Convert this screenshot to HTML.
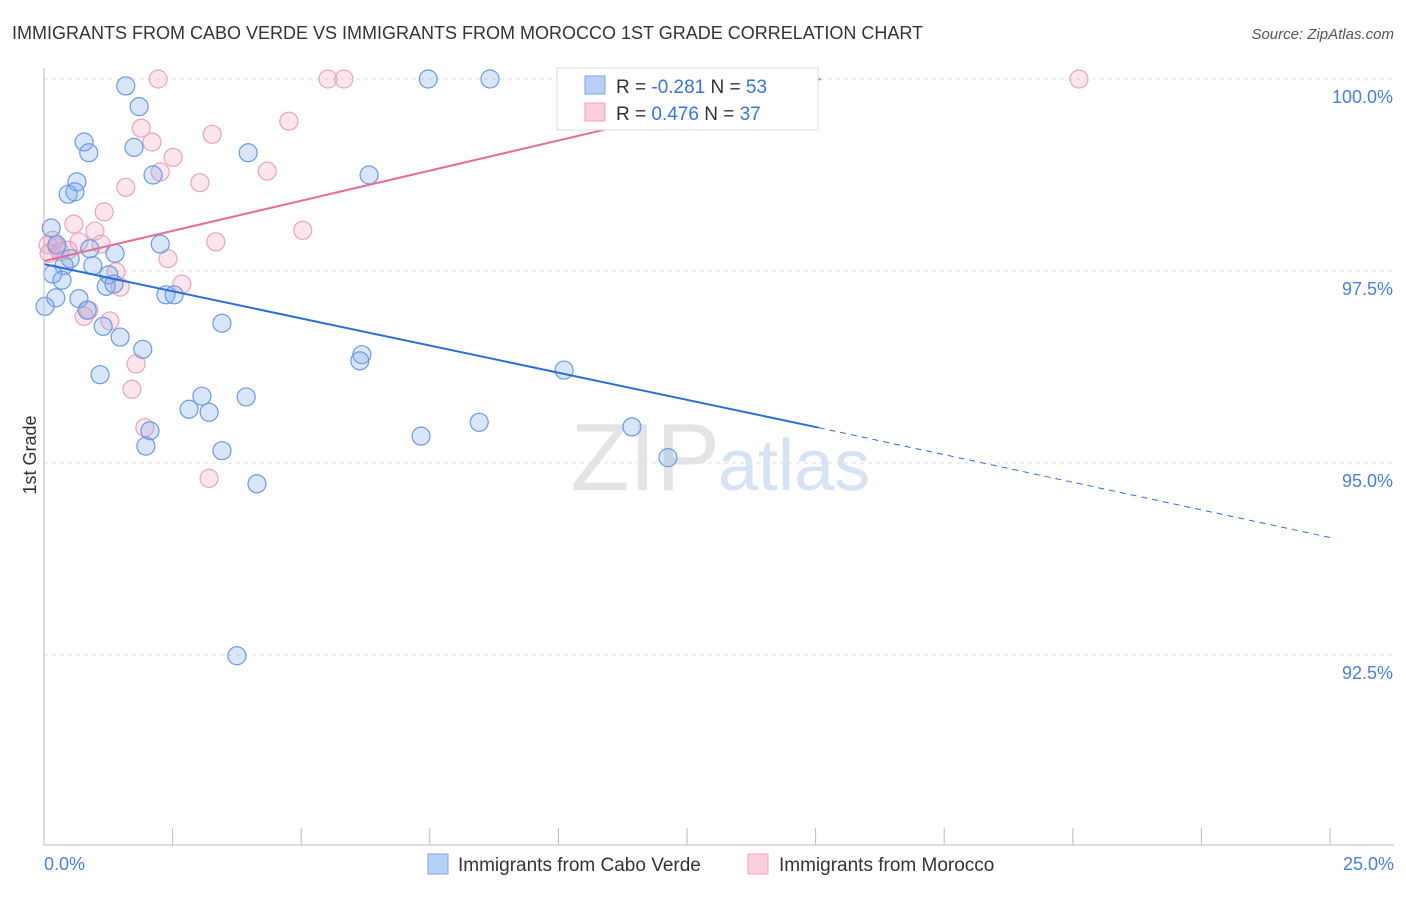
<!DOCTYPE html>
<html><head><meta charset="utf-8"><style>
body{margin:0;background:#fff;font-family:"Liberation Sans",sans-serif}
svg text{font-family:"Liberation Sans",sans-serif}
</style></head><body>
<svg id="c" width="1406" height="892" xmlns="http://www.w3.org/2000/svg">
<text x="12" y="39" font-size="18" fill="#333">IMMIGRANTS FROM CABO VERDE VS IMMIGRANTS FROM MOROCCO 1ST GRADE CORRELATION CHART</text>
<text x="1394" y="39" font-size="15" fill="#555" font-style="italic" text-anchor="end">Source: ZipAtlas.com</text>
<text x="36" y="455" font-size="18" fill="#333" transform="rotate(-90 36 455)" text-anchor="middle">1st Grade</text>
<g id="grid"></g>
<text x="720" y="490" font-size="96" fill="#e4e4e4" text-anchor="end" font-family="Liberation Serif">ZIP</text>
<text x="718" y="490" font-size="72" fill="#d6e3f5">atlas</text>
<g id="pts"></g>
<g id="lines"></g>
<line x1="44" y1="68" x2="44" y2="845" stroke="#bbb"/>
<line x1="44" y1="845" x2="1394" y2="845" stroke="#bbb"/>
<g id="xt"></g>
<text x="44" y="870" font-size="18" fill="#4a7fd6">0.0%</text>
<text x="1394" y="870" font-size="18" fill="#4a7fd6" text-anchor="end">25.0%</text>
<g>
<rect x="557" y="68" width="261" height="62" fill="#fff" stroke="#ddd"/>
<rect x="585" y="76" width="20" height="18" fill="#b8d0f5" stroke="#7aa6e6"/>
<rect x="585" y="103" width="20" height="18" fill="#fbcfdc" stroke="#eea4bd"/>
<text x="616" y="93" font-size="19" fill="#333">R = <tspan fill="#3a72d8">-0.281</tspan>   N = <tspan fill="#3a72d8">53</tspan></text>
<text x="616" y="120" font-size="19" fill="#333">R =  <tspan fill="#3a72d8">0.476</tspan>   N = <tspan fill="#3a72d8">37</tspan></text>
</g>
<g>
<rect x="428" y="854" width="20" height="20" fill="#b8d0f5" stroke="#7aa6e6"/>
<text x="458" y="871" font-size="19" fill="#333">Immigrants from Cabo Verde</text>
<rect x="748" y="854" width="20" height="20" fill="#fbcfdc" stroke="#eea4bd"/>
<text x="779" y="871" font-size="19" fill="#333">Immigrants from Morocco</text>
</g>
</svg>
<script>
const yTicks=[100,97.5,95,92.5];
const yTickLabels=["100.0%","97.5%","95.0%","92.5%"];
const xTicks=[0,2.5,5,7.5,10,12.5,15,17.5,20,22.5,25];
const blueX=[1.59,1.85,0.78,0.87,1.75,3.97,2.12,6.32,0.64,0.47,0.60,0.14,0.25,2.26,0.89,1.38,0.51,0.95,0.39,0.17,0.35,1.26,1.21,1.36,0.23,0.68,2.37,2.53,0.02,0.84,3.46,1.15,1.48,1.92,6.18,6.14,10.11,1.09,3.93,3.07,2.82,3.21,7.33,8.46,11.43,2.06,1.98,3.46,12.13,4.14,3.75,7.47,8.67];
const blueY=[99.91,99.64,99.18,99.04,99.11,99.04,98.75,98.75,98.66,98.50,98.53,98.06,97.84,97.85,97.79,97.73,97.66,97.57,97.57,97.46,97.38,97.45,97.30,97.33,97.15,97.14,97.19,97.19,97.04,96.99,96.82,96.78,96.64,96.48,96.41,96.33,96.21,96.15,95.86,95.87,95.70,95.66,95.35,95.53,95.47,95.42,95.22,95.16,95.07,94.73,92.49,100,100];
const pinkX=[2.22,5.52,5.83,20.12,4.76,1.89,3.27,2.10,2.51,2.26,4.34,3.03,1.59,1.17,0.58,5.03,0.99,3.34,0.17,0.68,0.25,1.11,0.47,0.10,2.41,1.40,2.68,1.48,0.87,0.78,1.28,1.79,1.71,1.96,3.21,0.08,0.31];
const pinkY=[100,100,100,100,99.45,99.36,99.28,99.18,98.98,98.79,98.80,98.65,98.59,98.27,98.11,98.03,98.02,97.88,97.90,97.88,97.81,97.85,97.77,97.73,97.66,97.49,97.33,97.29,96.99,96.91,96.85,96.29,95.96,95.46,94.80,97.84,97.75];
const blueTrend=[97.59,95.46,94.03]; // y at x=0, x=15.06, x=25
const blueTrendX=[0,15.06,25];
const pinkTrend=[97.63,100.0];
const pinkTrendX=[0,15.1];
const X=v=>44+v/25*1286, Y=v=>79+(100-v)/2.5*192;
const NS="http://www.w3.org/2000/svg";
function mk(t,a,p){const e=document.createElementNS(NS,t);for(const k in a)e.setAttribute(k,a[k]);p.appendChild(e);return e;}
const grid=document.getElementById('grid');
yTicks.forEach((t,i)=>{
 const l=mk('line',{x1:44,x2:1394,y1:Y(t),y2:Y(t),stroke:'#ddd','stroke-dasharray':'4,4'},grid);
 
 
 const tx=mk('text',{x:1393,y:Y(t)+24,'font-size':18,fill:'#4a7fd6','text-anchor':'end'},grid);
 tx.textContent=yTickLabels[i];
 
 
});
const xt=document.getElementById('xt');
xTicks.forEach(t=>{
 const l=mk('line',{x1:X(t),x2:X(t),y1:828,y2:845,stroke:'#bbb'},xt);
 
 
});
const pts=document.getElementById('pts');
pinkX.forEach((x,i)=>{
 const c=mk('circle',{cx:X(x),cy:Y(pinkY[i]),r:9,fill:'rgba(244,170,195,0.3)',stroke:'#eca3bc','stroke-width':1.2},pts);
 
 
});
blueX.forEach((x,i)=>{
 const c=mk('circle',{cx:X(x),cy:Y(blueY[i]),r:9,fill:'rgba(130,172,235,0.3)',stroke:'#6a9ae2','stroke-width':1.2},pts);
 
 
});
const lg=document.getElementById('lines');
let l=mk('line',{x1:X(blueTrendX[0]),y1:Y(blueTrend[0]),x2:X(blueTrendX[1]),y2:Y(blueTrend[1]),stroke:'#2a6fd8','stroke-width':2},lg);


l=mk('line',{x1:X(blueTrendX[1]),y1:Y(blueTrend[1]),x2:X(blueTrendX[2]),y2:Y(blueTrend[2]),stroke:'#2a6fd8','stroke-width':1,'stroke-dasharray':'6,5'},lg);


l=mk('line',{x1:X(pinkTrendX[0]),y1:Y(pinkTrend[0]),x2:X(pinkTrendX[1]),y2:Y(pinkTrend[1]),stroke:'#e46e98','stroke-width':2},lg);


</script>
</body></html>
